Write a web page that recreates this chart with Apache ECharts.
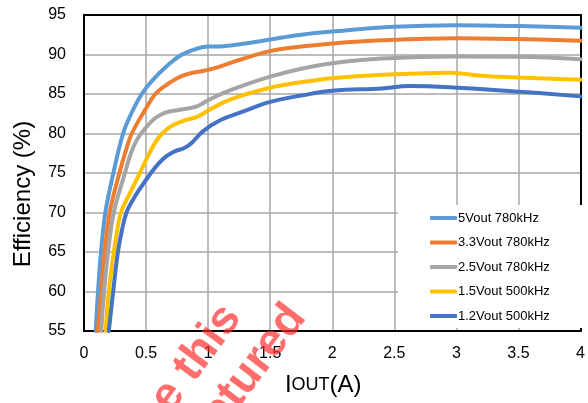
<!DOCTYPE html>
<html>
<head>
<meta charset="utf-8">
<script src="https://cdn.jsdelivr.net/npm/echarts@6/dist/echarts.min.js"></script>
<style>
html,body{margin:0;padding:0;background:#fff;}
#c{width:588px;height:403px;}
</style>
</head>
<body>
<div id="c"></div>
<script>
// ---- data ----
const seriesNames = ['5Vout 780kHz', '3.3Vout 780kHz', '2.5Vout 780kHz', '1.5Vout 500kHz', '1.2Vout 500kHz'];
const seriesColors = ['#5b9bd5', '#ed7d31', '#a5a5a5', '#ffc000', '#4472c4'];

// [Iout (A), efficiency (%)]
const eff5V = [[0.094,55],[0.113,60],[0.137,65],[0.172,70],[0.237,75],[0.315,80],[0.38,82.5],[0.465,85],[0.55,86.7],[0.65,88.3],[0.78,89.9],[0.9,90.7],[1.0,91.0],[1.12,91.05],[1.3,91.4],[1.5,91.9],[1.75,92.5],[2.0,92.9],[2.5,93.5],[3.0,93.7],[3.5,93.6],[4.0,93.4]];
const eff3V3 = [[0.112,55],[0.137,60],[0.167,65],[0.207,70],[0.285,75],[0.34,78],[0.385,80],[0.5,83.2],[0.575,85.0],[0.65,86.0],[0.75,87.0],[0.85,87.6],[0.985,88.0],[1.1,88.5],[1.25,89.3],[1.49,90.4],[1.75,91.0],[2.0,91.4],[2.4,91.8],[3.0,92.05],[3.5,91.95],[4.0,91.75]];
const eff2V5 = [[0.139,55],[0.162,60],[0.194,65],[0.24,70],[0.33,75],[0.38,77.6],[0.43,79.3],[0.5,80.8],[0.57,81.9],[0.65,82.6],[0.75,82.95],[0.85,83.2],[0.92,83.5],[1.0,84.2],[1.12,85.1],[1.25,85.9],[1.5,87.2],[1.75,88.2],[2.0,88.9],[2.4,89.5],[3.0,89.75],[3.5,89.7],[4.0,89.4]];
const eff1V5 = [[0.174,55],[0.2,60],[0.24,65],[0.265,67.5],[0.297,70],[0.365,72.3],[0.45,75],[0.52,77.3],[0.58,79.0],[0.63,80.0],[0.7,80.9],[0.8,81.6],[0.91,82.1],[1.0,82.9],[1.12,83.9],[1.25,84.7],[1.5,85.8],[1.75,86.5],[2.0,87.0],[2.5,87.5],[2.95,87.7],[3.2,87.3],[3.5,87.1],[4.0,86.8]];
const eff1V2 = [[0.2,55],[0.235,60],[0.273,65],[0.302,67.5],[0.342,70],[0.39,71.5],[0.45,73.0],[0.535,74.9],[0.6,76.2],[0.67,77.2],[0.74,77.8],[0.8,78.1],[0.86,78.7],[0.96,80.3],[1.1,81.7],[1.25,82.6],[1.5,84.0],[1.75,84.8],[2.0,85.4],[2.4,85.7],[2.62,86.0],[3.0,85.8],[3.5,85.3],[4.0,84.7]];
const seriesData = [eff5V, eff3V3, eff2V5, eff1V5, eff1V2];

const xMin = 0, xMax = 4, xStep = 0.5;
const yMin = 55, yMax = 95, yStep = 5;

const yTitle = 'Efficiency (%)';
const watermark1 = 'Do not use this';
const watermark2 = 'Image captured';

const FONT = '"Liberation Sans", Arial, sans-serif';

const chart = echarts.init(document.getElementById('c'), null, {renderer: 'canvas'});

const series = seriesData.map((d, i) => ({
  name: seriesNames[i],
  type: 'line',
  data: d,
  smooth: 0.4,
  symbol: 'none',
  lineStyle: {width: 4, color: seriesColors[i], cap: 'round'},
  itemStyle: {color: seriesColors[i]},
  clip: true,
  z: 3 + i
}));

const option = {
  animation: false,
  backgroundColor: '#fff',
  textStyle: {fontFamily: FONT},
  grid: {left: 84, right: 6, top: 15, bottom: 72, containLabel: false},
  xAxis: [{
    type: 'value', min: xMin, max: xMax, interval: xStep,
    axisLine: {show: true, onZero: false, lineStyle: {color: '#000', width: 2}},
    axisTick: {show: false},
    splitLine: {show: true, lineStyle: {color: '#a6a6a6', width: 1.5}},
    axisLabel: {color: '#000', fontSize: 16, fontFamily: FONT, margin: 15},
    name: '{a|I}{b|OUT}{a|(A)}',
    nameLocation: 'middle',
    nameGap: 42,
    nameTextStyle: {
      padding: [0, 18, 0, 0],
      rich: {
        a: {fontSize: 24, fontFamily: FONT, color: '#000'},
        b: {fontSize: 18, fontFamily: '"Liberation Sans Narrow", "Liberation Sans", Arial, sans-serif', color: '#000'}
      }
    }
  }, {
    type: 'value', position: 'top', min: xMin, max: xMax, interval: xStep,
    axisLine: {show: true, onZero: false, lineStyle: {color: '#000', width: 2}},
    axisTick: {show: false}, axisLabel: {show: false}, splitLine: {show: false}
  }],
  yAxis: [{
    type: 'value', min: yMin, max: yMax, interval: yStep,
    axisLine: {show: true, onZero: false, lineStyle: {color: '#000', width: 2}},
    axisTick: {show: false},
    splitLine: {show: true, lineStyle: {color: '#a6a6a6', width: 1.5}},
    axisLabel: {color: '#000', fontSize: 16, fontFamily: FONT, margin: 18}
  }, {
    type: 'value', position: 'right', min: yMin, max: yMax, interval: yStep,
    axisLine: {show: true, onZero: false, lineStyle: {color: '#000', width: 2}},
    axisTick: {show: false}, axisLabel: {show: false}, splitLine: {show: false}
  }],
  legend: {
    orient: 'vertical',
    left: 398, top: 205,
    padding: [6, 41, 5, 32],
    backgroundColor: '#fff',
    icon: 'roundRect',
    itemWidth: 27, itemHeight: 4,
    itemGap: 10.5,
    textStyle: {fontSize: 13, fontFamily: FONT, color: '#000', lineHeight: 14, padding: [0, 0, 0, -4]},
    data: seriesNames,
    z: 10
  },
  graphic: [
    {
      type: 'text', x: 23, y: 194, rotation: Math.PI / 2,
      style: {text: yTitle, fontSize: 24, fontFamily: FONT, fill: '#000', align: 'center', verticalAlign: 'middle'},
      z: 20
    },
    {
      type: 'text', x: 232, y: 310, rotation: 0.935,
      style: {text: watermark1, fontSize: 46, fontWeight: 'bold', fontFamily: FONT, fill: 'rgba(255,40,40,0.68)', align: 'right', verticalAlign: 'middle'},
      z: 100
    },
    {
      type: 'text', x: 297, y: 310, rotation: 0.92,
      style: {text: watermark2, fontSize: 46, fontWeight: 'bold', fontFamily: FONT, fill: 'rgba(255,40,40,0.68)', align: 'right', verticalAlign: 'middle'},
      z: 100
    }
  ],
  series: series
};

chart.setOption(option);
</script>
</body>
</html>
